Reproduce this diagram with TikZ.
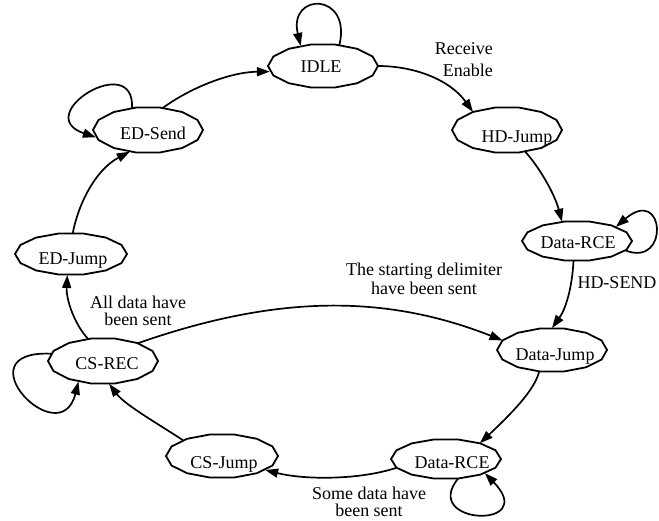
\documentclass[tikz,border=0pt]{standalone}
\usepackage{fontspec}
\setmainfont{Liberation Serif}
\usetikzlibrary{arrows.meta,shapes.geometric}

% Text inside a state, shifted by (#1,#2) from the centre of the state
\newcommand\sttext[3]{\makebox[0pt]{\hspace*{#1pt}\hspace*{#1pt}\raisebox{\dimexpr-#2pt-6pt\relax}[0pt][0pt]{#3}}}

% State: name, x, y, x-radius, y-radius, text dx, text dy, text
\newcommand\mkstate[8]{%
  \node[stnode, minimum width={2*#4}, minimum height={2*#5}] (#1) at (#2,#3) {\sttext{#6}{#7}{#8}};
  \draw[outline, shift={(#1.center)}] plot[samples=15, domain=0:360] ({#4*cos(\x)},{#5*sin(\x)}) -- cycle;
}

\begin{document}
\begin{tikzpicture}[x=1pt, y=-1pt,
  font=\fontsize{18}{20}\selectfont,
  stnode/.style={shape=ellipse, inner sep=0pt, outer sep=0pt, draw=none},
  outline/.style={line width=1.8pt, line join=round},
  edge/.style={line width=1.7pt, -{Triangle[length=13pt,width=9pt]}},
  lbl/.style={inner sep=0pt, align=center}]
\useasboundingbox (0,0) rectangle (659,520);

% states
\mkstate{idle}{323}{66}{55}{22}{-2}{0}{IDLE}
\mkstate{hdj}{507}{130}{55}{23}{10}{6}{HD-Jump}
\mkstate{rceA}{577}{241}{55}{20}{1}{1}{Data-RCE}
\mkstate{djump}{552}{350}{55}{22}{3}{4}{Data-Jump}
\mkstate{rceB}{446}{459}{55}{20}{6}{3}{Data-RCE}
\mkstate{csjump}{222}{456}{56}{22}{2}{6}{CS-Jump}
\mkstate{csrec}{103}{361}{55}{23}{4}{2}{CS-REC}
\mkstate{edjump}{71}{254}{56}{21}{2}{4}{ED-Jump}
\mkstate{edsend}{148}{130}{55}{23}{5}{3}{ED-Send}

% transitions
\draw[edge] (idle.52) .. controls (352,-8) and (288,-8) .. (idle.138);
\draw[edge] (idle.east) .. controls (415,66) and (450,80) .. (hdj.152);
\draw[edge] (hdj.-50) .. controls (540,168) and (555,195) .. (rceA.128);
\draw[edge] (rceA.-11) .. controls (670,268) and (665,185) .. (rceA.20);
\draw[edge] (rceA.-100) .. controls (572,290) and (565,310) .. (djump.north);
\draw[edge] (csrec.27) .. controls (270,297) and (380,292) .. (djump.169);
\draw[edge] (djump.-121) .. controls (535,390) and (510,415) .. (rceB.25);
\draw[edge] (rceB.-58) .. controls (420,525) and (540,530) .. (rceB.-20);
\draw[edge] (rceB.-170) .. controls (360,480) and (305,480) .. (csjump.-18);
\draw[edge] (csjump.158) .. controls (160,425) and (125,405) .. (csrec.-75);
\draw[edge] (csrec.172) .. controls (-40,350) and (60,455) .. (csrec.-140);
\draw[edge] (csrec.124) .. controls (75,325) and (66,300) .. (edjump.-100);
\draw[edge] (edjump.85) .. controls (78,205) and (95,170) .. (edsend.-130);
\draw[edge] (edsend.126) .. controls (135,50) and (30,115) .. (edsend.-172);
\draw[edge] (edsend.56) .. controls (190,88) and (230,72) .. (idle.186);

% transition labels
\node[lbl, align=right, anchor=east] (lrecv) at (493,60) {Receive\\[2pt]Enable};
\node[lbl] (lhdsend) at (617,283) {HD-SEND};
\node[lbl] (lstart) at (424,279) {The starting delimiter\\[-1pt]have been sent};
\node[lbl] (lall) at (138,311) {All data have\\[-3pt]been sent};
\node[lbl] (lsome) at (369,502) {Some data have\\[-3pt]been sent};
\end{tikzpicture}
\end{document}
